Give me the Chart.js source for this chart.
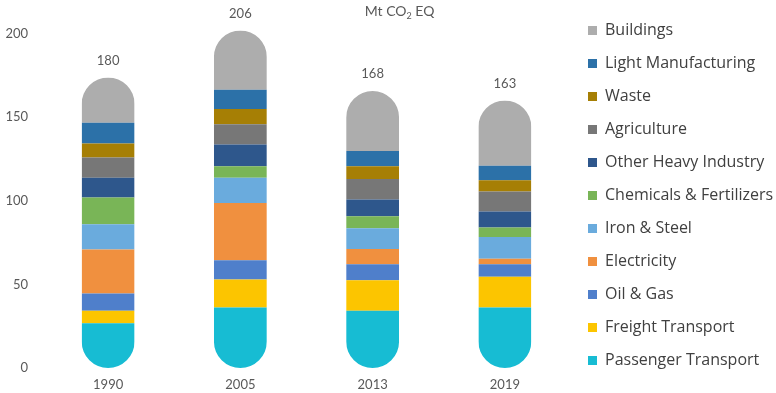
<!DOCTYPE html>
<html>
<head>
<meta charset="utf-8">
<script src="https://cdn.jsdelivr.net/npm/chart.js@4/dist/chart.umd.min.js"></script>
<style>
  html, body { margin: 0; padding: 0; background: #fff; }
  #wrap { width: 776px; height: 393px; position: relative; }
</style>
</head>
<body>
<div id="wrap"><canvas id="emissions-chart"></canvas></div>
<script>
//======================= DATA ==============================//
const years = ['1990', '2005', '2013', '2019'];
const totalLabels = ['180', '206', '168', '163'];
const yTicks = [0, 50, 100, 150, 200];
const yTop = 207; // head room above the 200 tick

// bottom of the stack first
const passenger     = [26.7, 36.2, 34.2, 36.2];
const freight       = [7.5, 16.7, 18.3, 18.3];
const oilGas        = [10.4, 11.6, 9.6, 7.6];
const electricity   = [26.3, 34.2, 9.1, 3.2];
const ironSteel     = [15.1, 15.1, 12.4, 13.1];
const chemicals     = [15.9, 6.8, 7.1, 5.6];
const otherHeavy    = [11.9, 13.1, 10.0, 9.5];
const agriculture   = [12.0, 12.0, 12.3, 12.0];
const waste         = [8.4, 9.1, 7.6, 6.7];
const lightMfg      = [12.5, 11.6, 9.1, 8.8];
const buildings     = [27.0, 35.4, 35.9, 39.0];

const textColor = '#595959';
const fontFamily = 'Lato, "Open Sans", sans-serif';
const legendFont = '"Open Sans", Lato, sans-serif';

function makeSet(label, data, color){
    return { label: label, data: data, backgroundColor: color, borderWidth: 0 };
}

const datasets = [
    makeSet('Passenger Transport', passenger, '#17bcd3'),
    makeSet('Freight Transport', freight, '#fcc500'),
    makeSet('Oil & Gas', oilGas, '#4f7fcb'),
    makeSet('Electricity', electricity, '#f0903f'),
    makeSet('Iron & Steel', ironSteel, '#6aabdd'),
    makeSet('Chemicals & Fertilizers', chemicals, '#79b557'),
    makeSet('Other Heavy Industry', otherHeavy, '#2e578c'),
    makeSet('Agriculture', agriculture, '#777777'),
    makeSet('Waste', waste, '#a67f05'),
    makeSet('Light Manufacturing', lightMfg, '#2c71a8'),
    makeSet('Buildings', buildings, '#adadad')
];

//======================= PLUGINS ==============================//
// clip each stacked column into a pill shape, then write totals + unit
const pillClip = {
    id: 'pillClip',
    beforeDatasetsDraw(chart){
        const ctx = chart.ctx;
        const first = chart.getDatasetMeta(0).data;
        const last = chart.getDatasetMeta(chart.data.datasets.length - 1).data;
        ctx.save();
        ctx.beginPath();
        first.forEach(function(bar, i){
            const w = bar.width;
            const top = last[i].y;
            ctx.roundRect(bar.x - w / 2, top, w, bar.base - top, w / 2);
        });
        ctx.clip();
    },
    afterDatasetsDraw(chart){
        const ctx = chart.ctx;
        ctx.restore();

        const last = chart.getDatasetMeta(chart.data.datasets.length - 1).data;
        ctx.save();
        ctx.fillStyle = textColor;
        ctx.font = '13px ' + fontFamily;
        ctx.textAlign = 'center';
        ctx.textBaseline = 'middle';
        last.forEach(function(bar, i){
            ctx.fillText(totalLabels[i], bar.x, bar.y - 17);
        });

        // unit title
        const area = chart.chartArea;
        let x = area.left + (area.right - area.left) * 0.676;
        const y = chart.scales.y.getPixelForValue(yTicks[yTicks.length - 1]) - 22;
        ctx.textAlign = 'left';
        ctx.font = '14px ' + fontFamily;
        const parts = ['Mt CO', '2', ' EQ'];
        const w0 = ctx.measureText(parts[0]).width;
        const w2 = ctx.measureText(parts[2]).width;
        ctx.font = '9px ' + fontFamily;
        const w1 = ctx.measureText(parts[1]).width;
        x = x - (w0 + w1 + w2) / 2;
        ctx.font = '14px ' + fontFamily;
        ctx.fillText(parts[0], x, y);
        ctx.font = '9px ' + fontFamily;
        ctx.fillText(parts[1], x + w0, y + 5);
        ctx.font = '14px ' + fontFamily;
        ctx.fillText(parts[2], x + w0 + w1, y);
        ctx.restore();
    }
};

//======================= CHART ==============================//
const ctx = document.getElementById('emissions-chart').getContext('2d');
const myChart = new Chart(ctx, {
    type: 'bar',
    data: { labels: years, datasets: datasets },
    plugins: [pillClip],
    options: {
        responsive: true,
        maintainAspectRatio: false,
        animation: false,
        layout: { padding: { top: 0, left: 3, right: 0, bottom: 2 } },
        datasets: { bar: { categoryPercentage: 1, barPercentage: 0.4, clip: false } },
        plugins: {
            legend: {
                position: 'right',
                reverse: true,
                maxWidth: 205,
                labels: {
                    boxWidth: 9,
                    boxHeight: 9,
                    padding: 17,
                    color: '#404040',
                    font: { family: legendFont, size: 16 }
                }
            },
            tooltip: { enabled: false }
        },
        scales: {
            x: {
                stacked: true,
                grid: { display: false, drawTicks: false },
                border: { display: false },
                afterFit: function(axis){ axis.height = 23; },
                ticks: { color: textColor, padding: 9, font: { family: fontFamily, size: 13 } }
            },
            y: {
                stacked: true,
                min: yTicks[0],
                max: yTop,
                grid: { display: false, drawTicks: false },
                border: { display: false },
                afterFit: function(axis){ axis.width = 39; },
                afterBuildTicks: function(axis){
                    axis.ticks = yTicks.map(v => ({ value: v }));
                },
                ticks: { color: textColor, padding: 14, font: { family: fontFamily, size: 13 } }
            }
        }
    }
});
</script>
</body>
</html>
